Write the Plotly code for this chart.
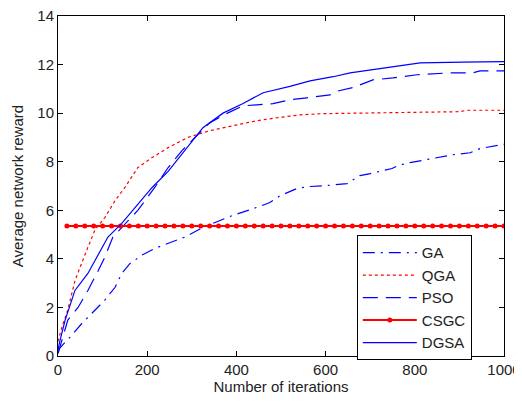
import plotly.graph_objects as go

# ---- data ----
dgsa_x = [0, 4, 16, 38, 67, 90, 112, 143, 173, 211, 247, 291, 325, 370, 415, 460, 520, 565, 617, 655, 729, 812, 908, 1000]
dgsa_y = [0.25, 0.6, 1.48, 2.7, 3.4, 4.2, 4.9, 5.46, 6.1, 6.94, 7.6, 8.6, 9.4, 10.0, 10.4, 10.84, 11.1, 11.33, 11.5, 11.66, 11.86, 12.07, 12.1, 12.12]

pso_x = [0, 4, 22, 45, 67, 87, 105, 123, 143, 179, 217, 247, 278, 307, 340, 380, 415, 482, 520, 558, 610, 625, 661, 706, 751, 805, 879, 930, 946, 1000]
pso_y = [0.1, 0.37, 1.48, 2.0, 2.7, 3.4, 4.07, 4.9, 5.3, 6.0, 6.94, 7.76, 8.46, 9.0, 9.6, 10.0, 10.3, 10.39, 10.55, 10.63, 10.75, 10.9, 11.05, 11.37, 11.45, 11.58, 11.66, 11.66, 11.74, 11.74]

qga_x = [0, 9, 22, 38, 61, 83, 105, 128, 150, 179, 211, 247, 291, 341, 392, 446, 491, 543, 594, 693, 901, 917, 1000]
qga_y = [0.6, 1.2, 1.9, 3.1, 4.2, 5.2, 5.7, 6.4, 6.94, 7.76, 8.17, 8.58, 9.0, 9.28, 9.48, 9.69, 9.81, 9.93, 9.98, 10.0, 10.06, 10.12, 10.12]

ga_x = [0, 4, 27, 54, 76, 105, 128, 143, 161, 188, 217, 247, 285, 325, 392, 446, 475, 498, 536, 565, 603, 648, 677, 700, 749, 762, 789, 827, 886, 924, 946, 1000]
ga_y = [0.15, 0.33, 0.78, 1.35, 1.76, 2.3, 2.83, 3.4, 3.8, 4.15, 4.43, 4.64, 4.9, 5.3, 5.79, 6.12, 6.32, 6.6, 6.9, 6.98, 7.02, 7.1, 7.43, 7.51, 7.72, 7.84, 7.96, 8.09, 8.29, 8.37, 8.54, 8.72]

csgc_x = list(range(20, 1001, 20))
csgc_y = [5.35] * len(csgc_x)

x_ticks = [0, 200, 400, 600, 800, 1000]
y_ticks = [0, 2, 4, 6, 8, 10, 12, 14]

BLUE = "#0000ff"
RED = "#ff0000"
FONT = "Liberation Sans, Arial"

fig = go.Figure()
fig.add_trace(go.Scatter(x=ga_x, y=ga_y, name="GA", mode="lines",
                         line=dict(color=BLUE, width=1.2, dash="12px,6px,2px,6px")))
fig.add_trace(go.Scatter(x=qga_x, y=qga_y, name="QGA", mode="lines",
                         line=dict(color=RED, width=1.2, dash="3px,3px")))
fig.add_trace(go.Scatter(x=pso_x, y=pso_y, name="PSO", mode="lines",
                         line=dict(color=BLUE, width=1.2, dash="15px,8px")))
fig.add_trace(go.Scatter(x=csgc_x, y=csgc_y, name="CSGC", mode="lines+markers",
                         line=dict(color=RED, width=2),
                         marker=dict(color=RED, size=5, symbol="circle")))
fig.add_trace(go.Scatter(x=dgsa_x, y=dgsa_y, name="DGSA", mode="lines",
                         line=dict(color=BLUE, width=1.2)))

axis_common = dict(showline=True, linecolor="black", linewidth=1, mirror="ticks",
                   ticks="inside", ticklen=5, tickcolor="black", showgrid=False,
                   zeroline=False, automargin=False, ticklabeloverflow="allow",
                   tickfont=dict(family=FONT, size=15, color="#222222"))

# the page body adds an 8px offset, so the figure is sized/margined to compensate
fig.update_layout(
    width=514, height=387,
    margin=dict(l=50, r=18, t=8, b=39),
    plot_bgcolor="white", paper_bgcolor="white",
    font=dict(family=FONT, size=15, color="#222222"),
    xaxis=dict(range=[0, 1000], tickvals=x_ticks,
               title=dict(text="Number of iterations", standoff=4, font=dict(size=15)),
               **axis_common),
    yaxis=dict(range=[0, 14], tickvals=y_ticks,
               title=dict(text="Average network reward", standoff=10, font=dict(size=15)),
               **axis_common),
    legend=dict(x=0.670, y=0.355, xanchor="left", yanchor="top",
                bgcolor="white", bordercolor="black", borderwidth=1,
                font=dict(family=FONT, size=15, color="#222222"),
                itemwidth=54, tracegroupgap=0),
    showlegend=True,
)

fig.write_html("out.html")
